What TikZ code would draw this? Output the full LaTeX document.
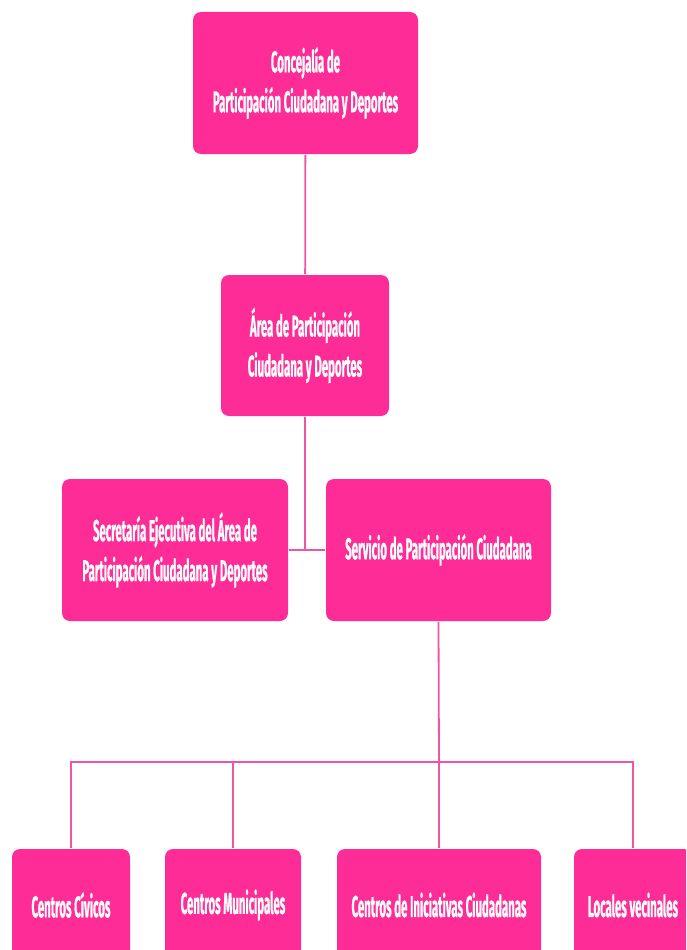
\documentclass[tikz,border=0pt]{standalone}
\usepackage{fontspec}
\usepackage{tikz}
\newfontfamily\orgfont{Fira Sans}[FakeStretch=0.38,BoldFeatures={FakeBold=0.6}]
\definecolor{orgpink}{RGB}{253,44,150}
\definecolor{orgline}{RGB}{242,84,164}

\begin{document}
\begin{tikzpicture}[x=1pt,y=-1pt,line width=1.8pt,
                    color=orgline]
  \tikzstyle{every node}=[font=\orgfont\bfseries\fontsize{30}{40}\selectfont,text=white]
  	\tikzstyle{orgbox}=[fill=orgpink,draw=none,rounded corners=8pt,align=center,inner sep=0pt]
\path[use as bounding box] (0,0) rectangle (686,950);
\clip (0,0) rectangle (686,950);
\node [orgbox,minimum width=225pt,minimum height=142pt] (con) at (305.5,83) {Concejalía de\\Participación Ciudadana y Deportes};
\node [orgbox,minimum width=168pt,minimum height=141pt] (area) at (305,345.5) {Área de Participación\\Ciudadana y Deportes};
\node [orgbox,minimum width=226pt,minimum height=142pt] (sec) at (175,550) {Secretaría Ejecutiva del Área de\\Participación Ciudadana y Deportes};
\node [orgbox,minimum width=225pt,minimum height=142pt] (serv) at (438.5,550) {Servicio de Participación Ciudadana};
\node [orgbox,minimum width=118pt,minimum height=112pt] (civ) at (71,905) {Centros Cívicos};
\node [orgbox,minimum width=136pt,minimum height=112pt] (mun) at (233,905) {Centros Municipales};
\node [orgbox,minimum width=204pt,minimum height=112pt] (ini) at (439,905) {Centros de Iniciativas Ciudadanas};
\node [orgbox,minimum width=118pt,minimum height=112pt] (loc) at (633,905) {Locales vecinales};
\coordinate (bus) at (439,762);

\draw (con) -- (area);
\draw (area.south) -- (area.south |- sec.east);
\draw (sec) -- (serv);
\draw (serv.south) -- (bus);
\draw (civ.north) -- (civ.north |- bus) -- (loc.north |- bus) -- (loc.north);
\draw (mun.north) -- (mun.north |- bus);
\draw (bus) -- (ini.north);

	\end{tikzpicture}
\end{document}
